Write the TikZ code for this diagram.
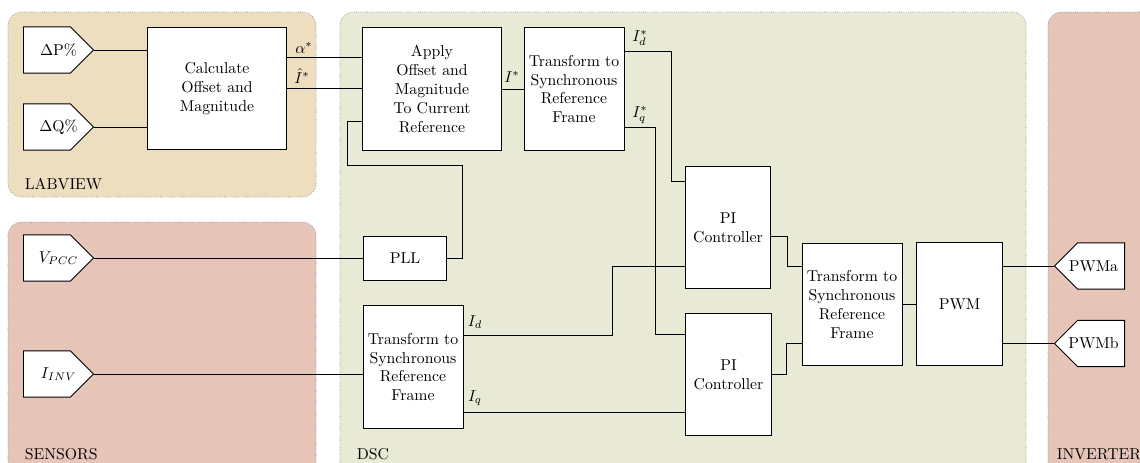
\documentclass[tikz,border=0pt]{standalone}
\usetikzlibrary{positioning,calc,shapes.symbols}
\definecolor{labviewcol}{RGB}{238,222,192}
\definecolor{sensorcol}{RGB}{230,196,184}
\definecolor{dsccol}{RGB}{232,234,214}

\begin{document}
\begin{tikzpicture}[
  x=0.0223cm, y=-0.0223cm,
  region/.style={draw=gray, densely dotted, rounded corners=0.3cm},
  block/.style={draw, fill=white, line width=0.6pt, align=center, inner sep=2pt},
  io/.style={draw, fill=white, line width=0.6pt, signal, signal to=east, signal pointer angle=90, minimum width=1.56cm, minimum height=1.03cm, inner sep=2pt},
  ioout/.style={io, signal to=west},
  intext/.style={xshift=0.26cm, inner sep=0pt},
  outtext/.style={xshift=-0.17cm, inner sep=0pt},
  lbl/.style={inner sep=1pt},
  wire/.style={line width=0.5pt}
]
\clip (0,0) rectangle (1140,462);

% background regions
\path[region, fill=labviewcol] (8,12) rectangle (316,197);
\path[region, fill=sensorcol] (8,222) rectangle (316,480);
\path[region, fill=dsccol] (340,12) rectangle (1026,480);
\path[region, fill=sensorcol] (1048,12) rectangle (1170,480);
\node[lbl, anchor=west] (labviewlbl) at (23,184) {LABVIEW};
\node[lbl, anchor=west] (sensorslbl) at (23,454) {SENSORS};
\node[lbl, anchor=west] (dsclbl) at (355,454) {DSC};
\node[lbl, anchor=west] (inverterlbl) at (1055,454) {INVERTER};

% inputs and outputs
\node[io, anchor=west, label={[intext, name=dptext]center:$\Delta$P\%}] (dp) at (23,50) {};
\node[io, anchor=west, label={[intext, name=dqtext]center:$\Delta$Q\%}] (dq) at (23,127) {};
\node[io, anchor=west, label={[intext, name=vpcctext]center:$V_{PCC}$}] (vpcc) at (23,258) {};
\node[io, anchor=west, label={[intext, name=iinvtext]center:$I_{INV}$}] (iinv) at (23,374) {};
\node[ioout, anchor=east, label={[outtext, name=pwmatext]center:PWMa}] (pwma) at (1125,266) {};
\node[ioout, anchor=east, label={[outtext, name=pwmbtext]center:PWMb}] (pwmb) at (1125,343.5) {};

% blocks
\node[block, minimum width=3.10cm, minimum height=2.74cm] (calc) at (217,88.5) {Calculate\\Offset and\\Magnitude};
\node[block, minimum width=3.10cm, minimum height=2.74cm] (apply) at (432,89) {Apply\\Offset and\\Magnitude\\To Current\\Reference};
\node[block, minimum width=2.23cm, minimum height=2.74cm] (t1) at (574,89) {Transform to\\Synchronous\\Reference\\Frame};
\node[block, minimum width=1.87cm, minimum height=1.00cm] (pll) at (405,258.5) {PLL};
\node[block, minimum width=2.23cm, minimum height=2.76cm] (t2) at (413,367) {Transform to\\Synchronous\\Reference\\Frame};
\node[block, minimum width=1.90cm, minimum height=2.74cm] (pi1) at (728,227.5) {PI\\Controller};
\node[block, minimum width=1.90cm, minimum height=2.74cm] (pi2) at (728.5,374.5) {PI\\Controller};
\node[block, minimum width=2.23cm, minimum height=2.74cm] (t3) at (852,304.5) {Transform to\\Synchronous\\Reference\\Frame};
\node[block, minimum width=1.90cm, minimum height=2.76cm] (pwm) at (959.5,304) {PWM};

% signal labels
\node[lbl] (alphalbl) at (304,48) {$\alpha^*$};
\node[lbl] (ihatlbl) at (302,76) {$\hat{I}^*$};
\node[lbl] (istarlbl) at (512,77) {$I^*$};
\node[lbl] (idstarlbl) at (640,38) {$I_d^*$};
\node[lbl] (iqstarlbl) at (640,115) {$I_q^*$};
\node[lbl] (idlbl) at (475,322) {$I_d$};
\node[lbl] (iqlbl) at (475,398) {$I_q$};

% connections
\foreach \a/\b in {dp/calc, dq/calc, vpcc/pll, iinv/t2}
  \draw[wire] (\a.east) -- (\b.west |- \a.east);
\draw[wire] ($(calc.north east)!0.25!(calc.south east)$) coordinate (alphaout) -- (apply.west |- alphaout);
\draw[wire] (calc.east) -- (apply.west |- calc.east);
\draw[wire] (apply.east) -- (t1.west |- apply.east);
\draw[wire] (pll.east) -- ++(15,0) -- ++(0,-93) -- ++(-115,0) |- ($(apply.north west)!0.76!(apply.south west)$);
\draw[wire] ($(t1.north east)!0.2!(t1.south east)$) -- ++(47,0) |- ($(pi1.north west)!0.13!(pi1.south west)$);
\draw[wire] ($(t1.north east)!0.81!(t1.south east)$) -- ++(31,0) |- ($(pi2.north west)!0.18!(pi2.south west)$);
\draw[wire] ($(t2.north east)!0.25!(t2.south east)$) -- ++(149,0) |- ($(pi1.north west)!0.81!(pi1.south west)$);
\draw[wire] ($(t2.north east)!0.86!(t2.south east)$) coordinate (iqout) -- (pi2.west |- iqout);
\draw[wire] ($(pi1.north east)!0.57!(pi1.south east)$) -- ++(16,0) |- ($(t3.north west)!0.19!(t3.south west)$);
\draw[wire] (pi2.east) -- ++(15,0) |- ($(t3.north west)!0.81!(t3.south west)$);
\draw[wire] (t3.east) -- (pwm.west |- t3.east);
\foreach \o in {pwma, pwmb}
  \draw[wire] (pwm.east |- \o.west) -- (\o.west);
\end{tikzpicture}
\end{document}
